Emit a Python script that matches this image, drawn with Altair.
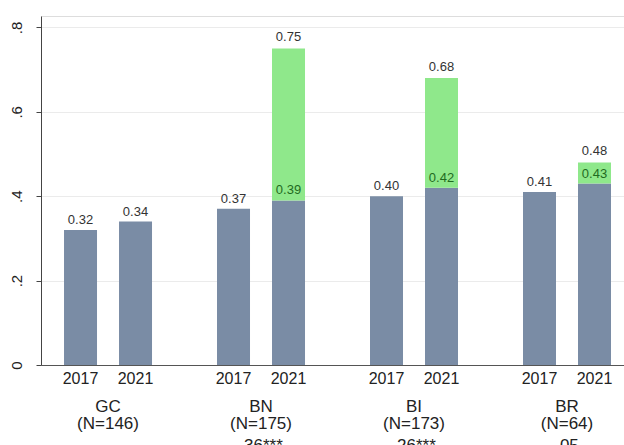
import altair as alt
import pandas as pd

# Groups, survey years and shares
groups = ["GC", "BN", "BI", "BR"]
group_n = ["(N=146)", "(N=175)", "(N=173)", "(N=64)"]
group_diff = ["", ".36***", ".26***", ".05"]
years = ["2017", "2021"]
base_2017 = [0.32, 0.37, 0.40, 0.41]
base_2021 = [0.34, 0.39, 0.42, 0.43]
top_2021 = [None, 0.75, 0.68, 0.48]

BLUE = "#7a8ca5"
GREEN = "#8fe88b"
DARK_GREEN = "#1f6b1f"
FONT = "Liberation Sans"

rows = []
for i, g in enumerate(groups):
    rows.append({"group": g, "year": years[0], "base": base_2017[i], "top": None})
    rows.append({"group": g, "year": years[1], "base": base_2021[i], "top": top_2021[i]})
bars = pd.DataFrame(rows)
bars["has_top"] = bars["top"].notna()
bars["base_txt"] = bars["base"].map(lambda v: f"{v:.2f}")
bars["top_txt"] = bars["top"].map(lambda v: f"{v:.2f}" if pd.notna(v) else "")

labels = pd.DataFrame({"group": groups, "n": group_n, "diff": group_diff})

x = alt.X(
    "group:N",
    sort=groups,
    scale=alt.Scale(paddingInner=0.3, paddingOuter=0.0553, align=0.796),
    axis=alt.Axis(labels=False, ticks=False, title=None, grid=False,
                  domainColor="#555555", domainWidth=1.2),
)
xo = alt.XOffset("year:N", sort=years,
                 scale=alt.Scale(paddingInner=0.4, paddingOuter=0.1736))
yscale = alt.Scale(domain=[0, 0.827], nice=False)
y = alt.Y(
    "base:Q",
    scale=yscale,
    axis=alt.Axis(
        values=[0, 0.2, 0.4, 0.6, 0.8],
        labelExpr="datum.value == 0 ? '0' : replace(format(datum.value, '.1f'), '0.', '.')",
        labelAngle=270, labelAlign="center", labelBaseline="alphabetic",
        labelPadding=15, labelFontSize=15, labelFont=FONT, labelColor="#222222",
        tickSize=5, tickColor="#444444", domainColor="#444444",
        gridColor="#ebebeb", title=None,
    ),
)

base = alt.Chart(bars)

blue_bars = base.mark_bar(color=BLUE).encode(x=x, xOffset=xo, y=y)

green_bars = base.transform_filter("datum.has_top").mark_bar(color=GREEN).encode(
    x=x, xOffset=xo, y=alt.Y("base:Q", scale=yscale), y2="top:Q"
)

base_text = base.mark_text(dy=-6, fontSize=13, font=FONT, baseline="alphabetic").encode(
    x=x, xOffset=xo, y=alt.Y("base:Q", scale=yscale), text="base_txt:N",
    color=alt.condition("datum.has_top", alt.value(DARK_GREEN), alt.value("#333333")),
)

top_text = base.transform_filter("datum.has_top").mark_text(
    dy=-7, fontSize=13, font=FONT, color="#333333", baseline="alphabetic"
).encode(x=x, xOffset=xo, y=alt.Y("top:Q", scale=yscale), text="top_txt:N")

year_text = base.mark_text(dy=18.5, fontSize=16, font=FONT, color="#222222",
                           baseline="alphabetic").encode(
    x=x, xOffset=xo, y=alt.datum(0, scale=yscale), text="year:N"
)

lab = alt.Chart(labels)
name_text = lab.mark_text(dy=47, fontSize=17, font=FONT, color="#222222",
                          baseline="alphabetic").encode(
    x=x, y=alt.datum(0, scale=yscale), text="group:N")
n_text = lab.mark_text(dy=64, fontSize=17, font=FONT, color="#222222",
                       baseline="alphabetic").encode(
    x=x, y=alt.datum(0, scale=yscale), text="n:N")
diff_text = lab.mark_text(dy=86, fontSize=17, font=FONT, color="#222222",
                          baseline="alphabetic").encode(
    x=x, y=alt.datum(0, scale=yscale), text="diff:N")

chart = (
    alt.layer(blue_bars, green_bars, base_text, top_text, year_text,
              name_text, n_text, diff_text)
    .properties(width=583, height=349, autosize="none",
                padding={"left": 41, "top": 16, "right": 0, "bottom": 80})
    .configure_view(stroke=None)
    .configure(background="white")
)

chart.save("out.html", embed_options={"renderer": "svg", "actions": False})
